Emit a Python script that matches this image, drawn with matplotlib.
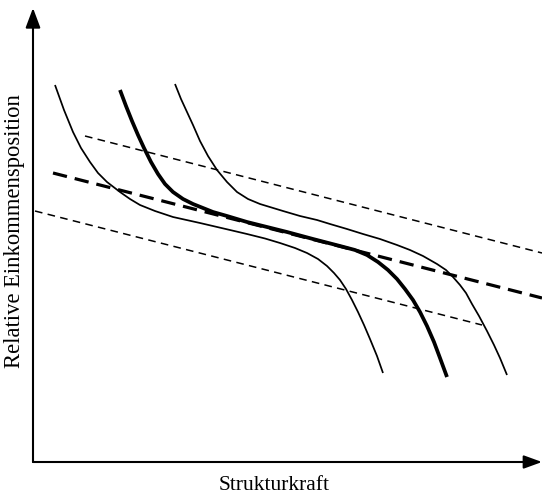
import matplotlib
matplotlib.use("Agg")
import matplotlib.pyplot as plt

# Data (schematic units, origin at axis crossing)
left_x = [22, 31, 40, 48, 57, 65, 74, 87, 97, 107, 122, 140, 167, 182, 197, 214, 232, 247,
          262, 274, 285, 294, 301, 307, 313, 319, 325, 331, 337, 344, 350]
left_y = [377, 352, 330, 314, 300, 289, 280, 270, 263, 257, 251, 245, 239, 235.5, 232, 228,
          223.5, 219, 214, 209, 203, 196, 189, 182, 173, 162, 150, 137, 123, 106, 89]

mid_x = [87, 93, 99, 105, 111, 118, 125, 132, 140, 150, 160, 170, 180, 194, 214, 234, 254,
         280, 307, 322, 334, 345, 355, 364, 372, 380, 387, 394, 401, 407, 414]
mid_y = [372, 356, 341, 327, 314, 300, 288, 278, 270, 263, 258, 254, 250, 246, 240, 235, 230,
         223, 216, 212, 207, 200, 192, 183, 173, 162, 150, 136, 120, 104, 85]

right_x = [142, 148, 154, 160, 167, 175, 184, 194, 204, 215, 227, 250, 267, 284, 297, 314,
           330, 347, 364, 377, 390, 404, 413, 420, 427, 433, 439, 446, 454, 461, 467, 474]
right_y = [378, 363, 350, 337, 321, 306, 292, 280, 270, 263, 258, 251, 246, 242, 238, 233,
           228, 223, 217, 212, 206, 198, 192, 185, 177, 169, 158, 146, 131, 117, 104, 87]

top_dash_x = [52, 509]
top_dash_y = [326, 209]
mid_dash_x = [20, 509]
mid_dash_y = [289, 164]
bot_dash_x = [2, 449]
bot_dash_y = [251, 137]

xlabel = "Strukturkraft"
ylabel = "Relative Einkommensposition"

fig = plt.figure(figsize=(5.42, 4.96), dpi=100)
ax = fig.add_axes([33/542, (496-462)/496, (542-33)/542, (462-8)/496])
ax.set_xlim(0, 509)
ax.set_ylim(0, 454)
ax.axis('off')

ax.plot(left_x, left_y, color='black', lw=1.25, solid_capstyle='butt', solid_joinstyle='round')
ax.plot(mid_x, mid_y, color='black', lw=2.7, solid_capstyle='butt', solid_joinstyle='round')
ax.plot(right_x, right_y, color='black', lw=1.25, solid_capstyle='butt', solid_joinstyle='round')

ax.plot(top_dash_x, top_dash_y, color='black', lw=1.1, dashes=(5, 3.5))
ax.plot(mid_dash_x, mid_dash_y, color='black', lw=2.3, dashes=(4.5, 2.5))
ax.plot(bot_dash_x, bot_dash_y, color='black', lw=1.1, dashes=(5, 3.5))

# axes with arrows
ax.annotate('', xy=(0, 1), xytext=(0, 0), xycoords='axes fraction',
            arrowprops=dict(arrowstyle='-|>,head_length=1.2,head_width=0.45',
                            color='black', lw=1.5, shrinkA=0, shrinkB=0))
ax.annotate('', xy=(1, 0), xytext=(0, 0), xycoords='axes fraction',
            arrowprops=dict(arrowstyle='-|>,head_length=1.1,head_width=0.4',
                            color='black', lw=1.5, shrinkA=0, shrinkB=0))

fig.text(274/542, 1 - 486/496, xlabel, family='Liberation Serif', fontsize=15.5,
         ha='center', va='center')
fig.text(15/542, 1 - 231/496, ylabel, family='Liberation Serif', fontsize=16.3,
         ha='center', va='center', rotation=90)

fig.savefig('out.png', dpi=100)
